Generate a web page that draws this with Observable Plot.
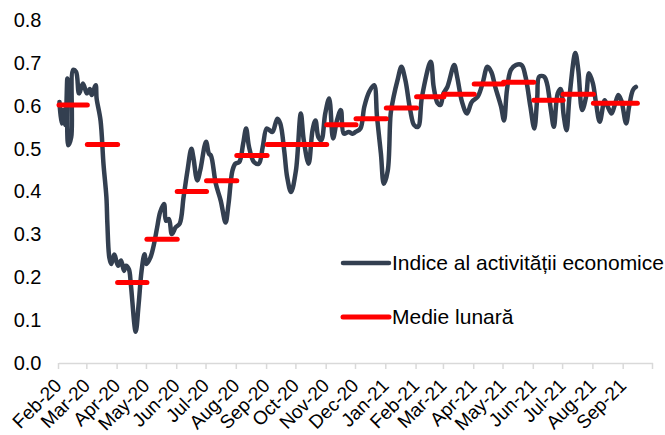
<!DOCTYPE html>
<html><head><meta charset="utf-8">
<script src="https://cdn.jsdelivr.net/npm/d3@7"></script>
<script src="https://cdn.jsdelivr.net/npm/@observablehq/plot@0.6"></script>
<style>
body{margin:0;background:#fff}
#chart{position:relative;width:665px;height:435px}
</style>
</head><body><div id="chart"></div>
<script>
// Daily economic activity index (read at turning points)
const dates = [
"2020-02-01","2020-02-03","2020-02-05","2020-02-07","2020-02-09","2020-02-10","2020-02-13","2020-02-15","2020-02-18","2020-02-21",
"2020-02-25","2020-02-29","2020-03-03","2020-03-05","2020-03-09","2020-03-10","2020-03-14","2020-03-17","2020-03-20","2020-03-21",
"2020-03-23","2020-03-25","2020-03-28","2020-04-01","2020-04-04","2020-04-07","2020-04-09","2020-04-12","2020-04-14","2020-04-19",
"2020-04-22","2020-04-25","2020-04-28","2020-04-30","2020-05-04","2020-05-07","2020-05-11","2020-05-14","2020-05-18","2020-05-20",
"2020-05-23","2020-05-26","2020-05-30","2020-06-03","2020-06-07","2020-06-11","2020-06-15","2020-06-17","2020-06-21","2020-06-24",
"2020-06-30","2020-07-03","2020-07-05","2020-07-10","2020-07-15","2020-07-20","2020-07-23","2020-07-27","2020-07-30","2020-08-03",
"2020-08-07","2020-08-10","2020-08-13","2020-08-18","2020-08-23","2020-08-27","2020-08-31","2020-09-03","2020-09-06","2020-09-11",
"2020-09-14","2020-09-18","2020-09-21","2020-09-25","2020-09-30","2020-10-05","2020-10-08","2020-10-13","2020-10-17","2020-10-20",
"2020-10-23","2020-10-26","2020-10-30","2020-11-03","2020-11-07","2020-11-11","2020-11-15","2020-11-18","2020-11-23","2020-11-27",
"2020-11-30","2020-12-05","2020-12-09","2020-12-14","2020-12-19","2020-12-22","2020-12-26","2020-12-29","2021-01-02","2021-01-05",
"2021-01-08","2021-01-12","2021-01-16","2021-01-20","2021-01-25","2021-01-29","2021-02-02","2021-02-06","2021-02-15","2021-02-18",
"2021-02-22","2021-02-25","2021-02-28","2021-03-04","2021-03-11","2021-03-14","2021-03-19","2021-03-24","2021-03-29","2021-04-04",
"2021-04-09","2021-04-14","2021-04-18","2021-04-22","2021-04-28","2021-05-01","2021-05-04","2021-05-08","2021-05-13","2021-05-19",
"2021-05-23","2021-05-28","2021-06-01","2021-06-04","2021-06-06","2021-06-11","2021-06-14","2021-06-18","2021-06-21","2021-06-25",
"2021-06-28","2021-07-01","2021-07-04","2021-07-07","2021-07-13","2021-07-16","2021-07-20","2021-07-24","2021-07-27","2021-07-31",
"2021-08-03","2021-08-07","2021-08-12","2021-08-15","2021-08-19","2021-08-22","2021-08-26","2021-08-29","2021-09-03","2021-09-06",
"2021-09-10","2021-09-13"
];
const values = [
0.610,0.560,0.591,0.556,0.665,0.509,0.528,0.685,0.680,0.630,
0.653,0.630,0.640,0.626,0.649,0.618,0.567,0.466,0.388,0.326,
0.247,0.232,0.254,0.228,0.240,0.216,0.228,0.220,0.185,0.074,
0.138,0.216,0.255,0.232,0.247,0.271,0.318,0.353,0.372,0.333,
0.337,0.302,0.318,0.326,0.388,0.450,0.501,0.481,0.427,0.450,
0.517,0.489,0.485,0.419,0.380,0.329,0.372,0.450,0.466,0.470,
0.513,0.548,0.505,0.470,0.466,0.505,0.548,0.544,0.540,0.571,
0.560,0.497,0.435,0.400,0.450,0.583,0.521,0.466,0.544,0.567,
0.528,0.521,0.583,0.618,0.525,0.567,0.591,0.536,0.540,0.536,
0.540,0.548,0.599,0.634,0.649,0.575,0.489,0.419,0.450,0.583,
0.622,0.661,0.692,0.661,0.591,0.556,0.552,0.622,0.704,0.645,
0.607,0.603,0.630,0.645,0.696,0.669,0.610,0.583,0.610,0.622,
0.653,0.692,0.680,0.645,0.599,0.567,0.638,0.685,0.696,0.696,
0.669,0.599,0.548,0.620,0.669,0.669,0.653,0.591,0.552,0.630,
0.640,0.580,0.544,0.622,0.724,0.685,0.591,0.622,0.677,0.653,
0.610,0.564,0.614,0.600,0.583,0.600,0.626,0.614,0.560,0.599,
0.638,0.645
];
// Monthly averages
const months = ["2020-02","2020-03","2020-04","2020-05","2020-06","2020-07","2020-08","2020-09","2020-10","2020-11",
"2020-12","2021-01","2021-02","2021-03","2021-04","2021-05","2021-06","2021-07","2021-08","2021-09"];
const monthlyAvg = [0.603,0.511,0.189,0.290,0.401,0.426,0.485,0.511,0.511,0.557,
0.571,0.596,0.622,0.628,0.652,0.656,0.614,0.628,0.607,0.607];
const yTicks = [0,0.1,0.2,0.3,0.4,0.5,0.6,0.7,0.8];
const legendLabels = ["Indice al activității economice","Medie lunară"];
const colors = {index:"#333f50", avg:"#ff0000"};

const parse = d3.utcParse("%Y-%m-%d");
const series = dates.map((d,i)=>({date: parse(d), value: values[i]}));
const lastDate = series[series.length-1].date;
const monthStarts = months.map(m => parse(m + "-01"));
const axisEnd = d3.utcMonth.offset(monthStarts[monthStarts.length-1], 1);
const tickDates = [...monthStarts, axisEnd];
const segments = months.map((m,i)=>{
  const s = monthStarts[i];
  const e = d3.utcMonth.offset(s,1);
  return {x1: s, x2: e > lastDate ? d3.utcDay.offset(lastDate, 2) : e, y: monthlyAvg[i]};
});
const fmt = d3.utcFormat("%b-%y");

const plot = Plot.plot({
  width: 665, height: 435,
  marginLeft: 59, marginRight: 12, marginTop: 20, marginBottom: 72,
  style: {fontFamily: "'Liberation Sans', Arial, sans-serif", fontSize: "20px", color: "#000", background: "#fff"},
  x: {type: "utc", domain: [monthStarts[0], axisEnd]},
  y: {domain: [0, 0.8]},
  marks: [
    Plot.ruleY([0], {stroke: "#d9d9d9", strokeWidth: 1.5}),
    Plot.axisX({ticks: tickDates, tickFormat: d => d >= axisEnd ? "" : fmt(d), tickRotate: -45,
      textAnchor: "end", lineAnchor: "middle", fontSize: 19,
      tickSize: 6, stroke: "#d9d9d9", strokeWidth: 1.5, fill: "#000", tickPadding: 13, dx: -1, label: null}),
    Plot.axisY({ticks: yTicks, tickFormat: d3.format(".1f"), tickSize: 0, tickPadding: 18, fill: "#000", label: null}),
    Plot.line(series, {x: "date", y: "value", stroke: colors.index, strokeWidth: 4.5, curve: "catmull-rom", strokeLinejoin: "round", strokeLinecap: "round"}),
    Plot.ruleY(segments, {x1: "x1", x2: "x2", y: "y", stroke: colors.avg, strokeWidth: 5, strokeLinecap: "round"})
  ]
});
document.getElementById("chart").appendChild(plot);

// Legend inside the plot area
const svg = d3.select(plot);
const lg = svg.append("g").attr("font-family","'Liberation Sans', Arial, sans-serif").attr("font-size", 21).attr("text-anchor","start");
[[legendLabels[0], colors.index, 4.5, 263],[legendLabels[1], colors.avg, 5, 317]].forEach(([t,c,w,y])=>{
  lg.append("line").attr("x1",343).attr("x2",389).attr("y1",y).attr("y2",y)
    .attr("stroke",c).attr("stroke-width",w).attr("stroke-linecap","round");
  lg.append("text").attr("x",392).attr("y",y).attr("dy","0.35em").attr("fill","#000").attr("text-anchor","start").text(t);
});
</script>
</body></html>
